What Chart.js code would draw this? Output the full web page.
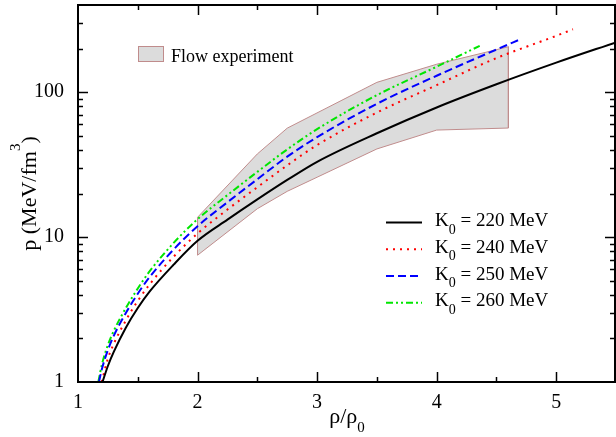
<!DOCTYPE html>
<html>
<head>
<meta charset="utf-8">
<script src="https://cdn.jsdelivr.net/npm/chart.js@4/dist/chart.umd.min.js"></script>
<style>
  html, body { margin: 0; padding: 0; background: #fff; }
</style>
</head>
<body>
<canvas id="c" width="616" height="437"></canvas>
<script>
// pressure vs density, K0 variants, with the flow-experiment band behind them
const FONT = '"Liberation Serif", "Times New Roman", serif';

const rho220 = [1.205, 1.25, 1.3, 1.4, 1.5, 1.6, 1.8, 2.0, 2.25, 2.5, 2.75, 3.0, 3.5, 4.0, 4.5, 5.0, 5.5];
const p220   = [1.0, 1.29, 1.62, 2.37, 3.24, 4.22, 6.46, 9.44, 13.2, 18.2, 24.8, 33.1, 52.1, 78.5, 113.5, 160, 221];

const rho240 = [1.198, 1.25, 1.3, 1.4, 1.5, 1.6, 1.8, 2.0, 2.25, 2.5, 2.75, 3.0, 3.5, 4.0, 4.5, 5.0, 5.14];
const p240   = [1.0, 1.45, 1.84, 2.66, 3.63, 4.73, 7.33, 10.6, 15.5, 22.1, 31.3, 43.2, 72.4, 112, 172, 245, 272];

const rho250 = [1.175, 1.2, 1.25, 1.3, 1.4, 1.5, 1.6, 1.8, 2.0, 2.25, 2.5, 2.75, 3.0, 3.5, 4.0, 4.5, 4.71];
const p250   = [1.0, 1.23, 1.66, 2.09, 2.99, 4.07, 5.31, 8.22, 11.9, 17.4, 25.1, 35.9, 49.0, 83.2, 130, 197, 234];

const rho260 = [1.17, 1.2, 1.25, 1.3, 1.4, 1.5, 1.6, 1.8, 2.0, 2.25, 2.5, 2.75, 3.0, 3.5, 4.0, 4.36];
const p260   = [1.0, 1.32, 1.80, 2.26, 3.24, 4.42, 5.82, 9.12, 13.3, 19.5, 28.2, 40.3, 55.6, 95.5, 150, 209];

// flow experiment band (upper and lower edge)
const flowUpperRho = [2.0, 2.5, 2.75, 3.5, 4.0, 4.6];
const flowUpperP   = [13.7, 37.5, 56.5, 117, 156, 206];
const flowLowerRho = [2.0, 2.5, 2.75, 3.0, 3.5, 4.0, 4.6];
const flowLowerP   = [7.5, 15.7, 20.7, 25.9, 40.6, 54.8, 56.6];

const k0Labels = ['220', '240', '250', '260'];
const yLabelled = [1, 10, 100];

const BAND_FILL = '#dcdcdc';
const BAND_EDGE = '#c08c8c';

const pts = (xs, ys) => xs.map((x, i) => ({ x, y: ys[i] }));

const bandPoly = pts(flowUpperRho, flowUpperP)
  .concat(pts(flowLowerRho, flowLowerP).reverse());
bandPoly.push({ x: flowUpperRho[0], y: flowUpperP[0] });

const curves = [
  { k: k0Labels[0], data: pts(rho220, p220), color: '#000000', dash: [] },
  { k: k0Labels[1], data: pts(rho240, p240), color: '#ff0000', dash: [2, 5] },
  { k: k0Labels[2], data: pts(rho250, p250), color: '#0000ff', dash: [8, 4] },
  { k: k0Labels[3], data: pts(rho260, p260), color: '#00e600', dash: [7, 3, 2, 3, 2, 3] },
];

const datasets = [{
  label: 'Flow experiment',
  data: bandPoly,
  fill: 'shape',
  backgroundColor: BAND_FILL,
  borderColor: BAND_EDGE,
  borderWidth: 1,
  pointRadius: 0,
  tension: 0,
  order: 10,
}];
for (const c of curves) {
  datasets.push({
    label: 'K0 = ' + c.k + ' MeV',
    data: c.data,
    borderColor: c.color,
    borderDash: c.dash,
    borderWidth: 2,
    pointRadius: 0,
    fill: false,
    cubicInterpolationMode: 'monotone',
    order: 1,
  });
}

// text with sub/superscript pieces: [{t, size, dy}]
function richText(ctx, parts, x, y, align) {
  let w = 0;
  for (const p of parts) {
    ctx.font = p.size + 'px ' + FONT;
    p.w = ctx.measureText(p.t).width;
    w += p.w;
  }
  let cx = align === 'center' ? x - w / 2 : x;
  ctx.textAlign = 'left';
  ctx.textBaseline = 'alphabetic';
  for (const p of parts) {
    ctx.font = p.size + 'px ' + FONT;
    ctx.fillText(p.t, cx, y + (p.dy || 0));
    cx += p.w;
  }
}

const frame = {
  id: 'frame',
  afterDatasetsDraw(chart) {
    const { ctx, chartArea: a, scales: { x, y } } = chart;
    ctx.save();
    ctx.strokeStyle = '#000';
    ctx.fillStyle = '#000';

    const seg = (x1, y1, x2, y2) => { ctx.beginPath(); ctx.moveTo(x1, y1); ctx.lineTo(x2, y2); ctx.stroke(); };

    // ticks, pointing inwards on all four sides
    ctx.lineWidth = 1.5;
    for (let v = 1.5; v < 5.5; v += 0.5) {
      const px = Math.round(x.getPixelForValue(v)) + 0.5;
      const len = Number.isInteger(v) ? 10 : 5;
      seg(px, a.bottom, px, a.bottom - len);
      seg(px, a.top, px, a.top + len);
    }
    for (const d of yLabelled) {
      for (let m = 1; m <= 9; m++) {
        const v = m * d;
        if (v <= 1 || v >= 400) continue;
        const py = Math.round(y.getPixelForValue(v)) + 0.5;
        const len = m === 1 ? 10 : 5;
        seg(a.left, py, a.left + len, py);
        seg(a.right - 1, py, a.right - 1 - len, py);
      }
    }

    ctx.lineWidth = 2;
    ctx.strokeRect(a.left, a.top, a.right - 1 - a.left, a.bottom - a.top);

    // axis titles
    richText(ctx, [{ t: 'ρ/ρ', size: 22 }, { t: '0', size: 15, dy: 9 }],
      (a.left + a.right) / 2, 423, 'center');
    ctx.save();
    ctx.translate(36, (a.top + a.bottom) / 2);
    ctx.rotate(-Math.PI / 2);
    richText(ctx, [{ t: 'p (MeV/fm', size: 22 }, { t: '3', size: 15, dy: -16 }, { t: ')', size: 22 }], 0, 0, 'center');
    ctx.restore();

    // flow experiment legend
    ctx.fillStyle = BAND_FILL;
    ctx.fillRect(138.5, 46.5, 25, 15);
    ctx.strokeStyle = BAND_EDGE;
    ctx.lineWidth = 1;
    ctx.strokeRect(138.5, 46.5, 25, 15);
    ctx.fillStyle = '#000';
    richText(ctx, [{ t: 'Flow experiment', size: 18 }], 171, 61.5, 'left');

    // K0 legend
    const rowY = [222.6, 249.3, 276, 302.7];
    curves.forEach((c, i) => {
      const ry = rowY[i];
      ctx.strokeStyle = c.color;
      ctx.lineWidth = 2;
      ctx.setLineDash(c.dash);
      seg(386, ry, 422, ry);
      ctx.setLineDash([]);
      ctx.fillStyle = '#000';
      richText(ctx, [
        { t: 'K', size: 19 },
        { t: '0', size: 14, dy: 7.4 },
        { t: ' = ' + c.k + ' MeV', size: 19 },
      ], 435, ry + 3.6, 'left');
    });
    ctx.restore();
  },
};

new Chart(document.getElementById('c'), {
  type: 'line',
  data: { datasets },
  options: {
    responsive: false,
    animation: false,
    parsing: false,
    layout: { padding: { top: 5, right: 0, bottom: 0, left: 0 } },
    plugins: { legend: { display: false }, tooltip: { enabled: false } },
    scales: {
      x: {
        type: 'linear',
        min: 1,
        max: 5.5,
        grid: { display: false },
        border: { display: false },
        ticks: {
          stepSize: 1,
          autoSkip: false,
          maxRotation: 0,
          padding: 1,
          color: '#000',
          font: { family: FONT, size: 20 },
          callback: (v) => (Number.isInteger(v) ? String(v) : null),
        },
        afterFit: (s) => { s.height = 55; s.paddingLeft = 0; s.paddingRight = 0; },
      },
      y: {
        type: 'logarithmic',
        min: 1,
        max: 400,
        grid: { display: false },
        border: { display: false },
        ticks: {
          autoSkip: false,
          padding: 6,
          color: '#000',
          font: { family: FONT, size: 20 },
          callback: (v) => (yLabelled.includes(v) ? String(v) : null),
        },
        afterFit: (s) => { s.width = 78; s.paddingTop = 0; s.paddingBottom = 0; },
      },
    },
  },
  plugins: [frame],
});
</script>
</body>
</html>
